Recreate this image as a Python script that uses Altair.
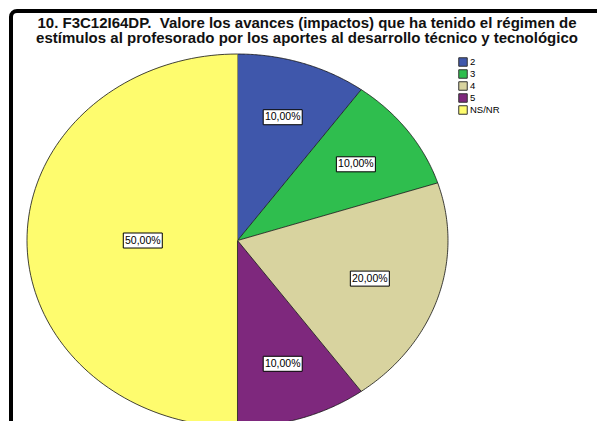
import altair as alt
import pandas as pd

categories = ["2", "3", "4", "5", "NS/NR"]
values = [10, 10, 20, 10, 50]
colors = ["#3F57AB", "#2FBE4E", "#D8D39F", "#7E287D", "#FEFC6E"]
title_lines = [
    "10. F3C12I64DP.\u00a0 Valore los avances (impactos) que ha tenido el régimen de",
    "estímulos al profesorado por los aportes al desarrollo técnico y tecnológico",
]

df = pd.DataFrame({"cat": categories, "value": values, "idx": list(range(len(categories)))})
title_df = pd.DataFrame({"text": ["\n".join(title_lines)]})

W, H = 596, 420
xs = alt.Scale(domain=[-1.076, 1.7554], nice=False, zero=False)
ys = alt.Scale(domain=[-1.0214, 1.2306], nice=False, zero=False)
color_scale = alt.Scale(domain=categories, range=colors)

base = (
    alt.Chart(df)
    .transform_joinaggregate(total="sum(value)")
    .transform_window(cum="sum(value)", sort=[alt.SortField("idx")], frame=[None, 0])
    .transform_calculate(
        start="(datum.cum - datum.value) / datum.total",
        end="datum.cum / datum.total",
    )
)

slices = (
    base.transform_calculate(t="sequence(-0.02, 1.0001, 0.01)")
    .transform_flatten(["t"])
    .transform_calculate(
        a="2*PI*(datum.start + clamp(datum.t, 0, 1)*(datum.end - datum.start))",
        r="datum.t < 0 ? 0 : 1",
    )
    .transform_calculate(px="datum.r*sin(datum.a)", py="datum.r*cos(datum.a)")
    .mark_line(stroke="#111111", strokeWidth=0.8, interpolate="linear", strokeJoin="round")
    .encode(
        x=alt.X("px:Q", scale=xs, axis=None),
        y=alt.Y("py:Q", scale=ys, axis=None),
        fill=alt.Fill(
            "cat:N",
            scale=color_scale,
            legend=alt.Legend(
                title=None,
                orient="none",
                legendX=447,
                legendY=46,
                symbolType="square",
                symbolSize=72,
                symbolStrokeColor="#333333",
                symbolStrokeWidth=1,
                labelFontSize=9.5,
                labelFont="Liberation Sans",
                labelColor="#000000",
                labelOffset=2,
                rowPadding=-3,
                padding=0,
            ),
        ),
        order=alt.Order("t:Q"),
        detail="cat:N",
    )
)

labels = base.transform_calculate(
    mid="PI*(datum.start + datum.end)",
    th="2*PI*(datum.end - datum.start)",
    label="replace(format(datum.value / datum.total * 100, '.2f'), '.', ',') + '%'",
).transform_calculate(
    rc="1.06*4*sin(datum.th/2)/(3*datum.th)",
).transform_calculate(
    lx="datum.rc*sin(datum.mid)",
    ly="datum.rc*cos(datum.mid)",
)

boxes = labels.mark_point(
    shape="M-1,-0.385H1V0.385H-1Z",
    size=1521,
    filled=True,
    fill="white",
    stroke="black",
    strokeWidth=1,
    opacity=1,
).encode(x=alt.X("lx:Q", scale=xs), y=alt.Y("ly:Q", scale=ys))

texts = labels.mark_text(
    font="Liberation Sans", fontSize=10.5, color="black", align="center", baseline="middle"
).encode(x=alt.X("lx:Q", scale=xs), y=alt.Y("ly:Q", scale=ys), text="label:N")

title = (
    alt.Chart(title_df)
    .mark_text(
        font="Liberation Sans",
        fontSize=15,
        fontWeight="bold",
        lineBreak="\n",
        lineHeight=15,
        align="center",
        baseline="top",
        color="#111111",
    )
    .encode(x=alt.value(296), y=alt.value(4.5), text="text:N")
)

chart = (
    alt.layer(slices, boxes, texts, title)
    .properties(
        width=W,
        height=H,
        autosize=alt.AutoSizeParams(type="none"),
        padding={"left": 3, "top": 3, "right": -10, "bottom": -10},
        background="white",
    )
    .configure_view(stroke="black", strokeWidth=4, cornerRadius=6)
)

chart.save("out.html", embed_options={"renderer": "svg", "actions": False})
